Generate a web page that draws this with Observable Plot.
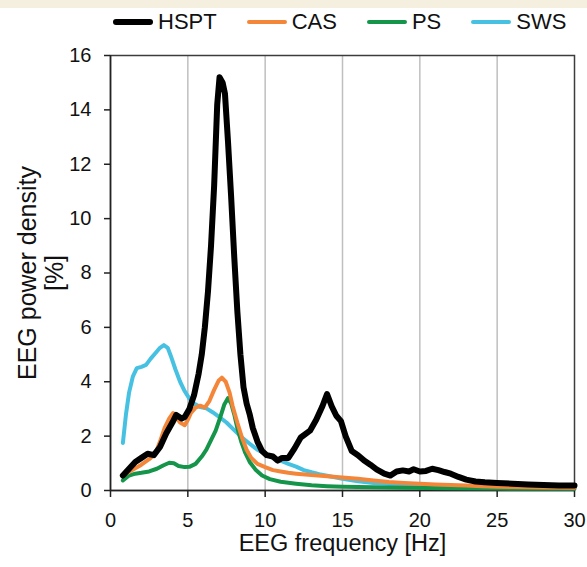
<!DOCTYPE html>
<html><head><meta charset="utf-8">
<script src="https://cdn.jsdelivr.net/npm/d3@7"></script>
<script src="https://cdn.jsdelivr.net/npm/@observablehq/plot@0.6"></script>
<style>
body{margin:0;background:#fff;font-family:"Liberation Sans",Arial,sans-serif;}
#wrap{position:relative;width:587px;height:567px;overflow:hidden;background:#fff;}
#band{position:absolute;top:0;left:0;width:587px;height:8px;background:#f4efdf;}
#legend{position:absolute;top:9px;left:113px;height:26px;display:flex;align-items:center;font-size:22px;color:#111;white-space:nowrap;}
.item{display:flex;align-items:center;margin-right:30px;}
.sw{width:40px;margin-right:5px;border-radius:3px;}
#chart{position:absolute;top:40px;left:0;}
</style></head>
<body>
<div id="wrap"><div id="band"></div><div id="legend"></div><div id="chart"></div></div>
<script>
const seriesNames = ["HSPT", "CAS", "PS", "SWS"];
const seriesColors = ["#000000", "#f4863a", "#14954a", "#47c1e2"];
const seriesWidths = [6, 4, 4, 4];

const hsptHz = [0.8,1.2,1.6,2.0,2.4,2.8,3.2,3.6,4.0,4.25,4.6,4.8,5.1,5.4,5.7,5.9,6.1,6.3,6.5,6.7,6.9,7.05,7.25,7.4,7.6,7.8,8.0,8.2,8.4,8.6,8.8,9.0,9.2,9.5,9.8,10.1,10.5,10.8,11.1,11.5,11.9,12.3,12.9,13.3,13.7,14.0,14.3,14.6,14.9,15.2,15.6,16.0,16.4,16.8,17.2,17.7,18.1,18.5,18.9,19.3,19.6,20.0,20.4,20.8,21.2,21.6,22.0,22.5,23.0,23.6,24.2,25.0,26.0,27.0,28.0,29.0,30.0];
const hsptVal = [0.55,0.8,1.05,1.2,1.35,1.3,1.6,2.1,2.5,2.78,2.65,2.7,3.0,3.5,4.3,5.0,6.0,7.3,9.0,11.2,14.2,15.2,15.0,14.6,12.8,10.8,8.6,6.6,5.0,3.8,3.2,2.8,2.3,1.8,1.45,1.3,1.25,1.1,1.2,1.2,1.55,1.95,2.2,2.6,3.1,3.55,3.1,2.75,2.55,2.0,1.45,1.3,1.1,0.95,0.78,0.62,0.55,0.7,0.74,0.7,0.78,0.7,0.72,0.8,0.75,0.68,0.62,0.5,0.4,0.33,0.3,0.28,0.25,0.22,0.2,0.18,0.18];

const casHz = [0.8,1.4,2.0,2.5,2.9,3.2,3.5,3.8,4.05,4.3,4.5,4.8,5.0,5.2,5.5,5.8,6.1,6.4,6.7,7.0,7.2,7.45,7.7,7.9,8.2,8.5,8.8,9.1,9.5,10.0,10.5,11.0,11.5,12.0,13.0,14.0,15.0,16.0,17.0,18.0,19.0,20.0,21.0,22.0,23.0,24.0,25.0,26.0,28.0,30.0];
const casVal = [0.55,0.75,0.95,1.15,1.35,1.8,2.3,2.65,2.85,2.65,2.5,2.4,2.6,2.85,3.05,3.12,3.05,3.3,3.7,4.05,4.15,4.0,3.6,3.1,2.5,1.95,1.5,1.2,0.98,0.86,0.75,0.7,0.65,0.62,0.57,0.52,0.48,0.43,0.37,0.31,0.28,0.25,0.22,0.2,0.18,0.16,0.14,0.13,0.11,0.1];

const psHz = [0.8,1.2,1.6,2.0,2.5,3.0,3.4,3.8,4.1,4.4,4.8,5.1,5.5,5.9,6.2,6.5,6.8,7.1,7.35,7.6,7.8,8.0,8.2,8.45,8.7,9.0,9.4,9.8,10.3,11.0,12.0,13.0,14.0,15.0,17.0,19.0,22.0,25.0,28.0,30.0];
const psVal = [0.37,0.55,0.62,0.65,0.7,0.8,0.92,1.02,1.0,0.9,0.86,0.87,0.98,1.25,1.5,1.85,2.2,2.7,3.15,3.4,3.2,2.8,2.3,1.8,1.4,1.05,0.75,0.55,0.42,0.32,0.25,0.19,0.16,0.14,0.12,0.1,0.08,0.07,0.06,0.06];

const swsHz = [0.8,1.0,1.2,1.45,1.7,2.0,2.3,2.6,2.9,3.2,3.45,3.7,3.9,4.2,4.5,4.8,5.1,5.4,5.8,6.2,6.6,7.0,7.5,8.0,8.5,9.0,9.5,10.0,10.5,11.0,11.5,12.0,12.5,13.0,13.5,14.0,15.0,16.0,17.0,18.0,19.0,20.0,22.0,24.0,26.0,28.0,30.0];
const swsVal = [1.75,2.8,3.6,4.2,4.5,4.55,4.62,4.85,5.05,5.25,5.35,5.25,4.95,4.45,4.0,3.65,3.38,3.2,3.07,3.02,2.88,2.72,2.5,2.22,1.95,1.72,1.5,1.35,1.2,1.1,0.98,0.88,0.75,0.67,0.6,0.54,0.43,0.34,0.28,0.24,0.2,0.18,0.14,0.12,0.1,0.09,0.08];

const xTicks = [0, 5, 10, 15, 20, 25, 30];
const yTicks = [0, 2, 4, 6, 8, 10, 12, 14, 16];
const xGrid = [5, 10, 15, 20, 25];
const xLabel = "EEG frequency [Hz]";
const yLabel = "EEG power density\n[%]";

const hzArr = [hsptHz, casHz, psHz, swsHz];
const valArr = [hsptVal, casVal, psVal, swsVal];
const rows = [];
seriesNames.forEach((s, k) => hzArr[k].forEach((f, i) => rows.push({series: s, hz: f, val: valArr[k][i]})));

// legend
const leg = document.getElementById("legend");
seriesNames.forEach((s, k) => {
  const it = document.createElement("div"); it.className = "item";
  const sw = document.createElement("div"); sw.className = "sw";
  sw.style.height = (k === 0 ? 6 : 4) + "px"; sw.style.background = seriesColors[k];
  const tx = document.createElement("span"); tx.textContent = s;
  it.appendChild(sw); it.appendChild(tx); leg.appendChild(it);
});

const drawOrder = ["SWS", "PS", "CAS", "HSPT"];
const lineMarks = drawOrder.map(s => {
  const k = seriesNames.indexOf(s);
  return Plot.line(rows.filter(d => d.series === s), {x: "hz", y: "val", stroke: seriesColors[k], strokeWidth: seriesWidths[k], strokeLinejoin: "round", strokeLinecap: "round"});
});

const chart = Plot.plot({
  width: 587, height: 527,
  marginTop: 15, marginRight: 13, marginBottom: 77, marginLeft: 110,
  style: {fontFamily: "Liberation Sans, Arial, sans-serif", fontSize: "20px", color: "#111", background: "#fff", overflow: "visible"},
  x: {domain: [0, 30], label: null},
  y: {domain: [0, 16], label: null},
  marks: [
    Plot.ruleX(xGrid, {stroke: "#bfbfbf", strokeWidth: 1.5}),
    Plot.frame({stroke: "#3c3c3c", strokeWidth: 1.5}),
    Plot.ruleY([0], {stroke: "#222", strokeWidth: 1.5}),
    Plot.ruleX([0], {stroke: "#222", strokeWidth: 1.5}),
    Plot.axisX({ticks: xTicks, tickSize: 7, tickPadding: 15, label: null, stroke: "#222", strokeWidth: 1.5}),
    Plot.axisY({ticks: yTicks, tickSize: 6, tickPadding: 13, label: null, stroke: "#222", strokeWidth: 1.5}),
    ...lineMarks,
    Plot.text([yLabel], {frameAnchor: "left", rotate: -90, dx: -70, fontSize: 25, lineHeight: 1.08, textAnchor: "middle", fill: "#111"}),
    Plot.text([xLabel], {frameAnchor: "bottom", dy: 60, fontSize: 23.5, textAnchor: "middle", fill: "#111"})
  ]
});
document.getElementById("chart").appendChild(chart);
</script>
</body></html>
